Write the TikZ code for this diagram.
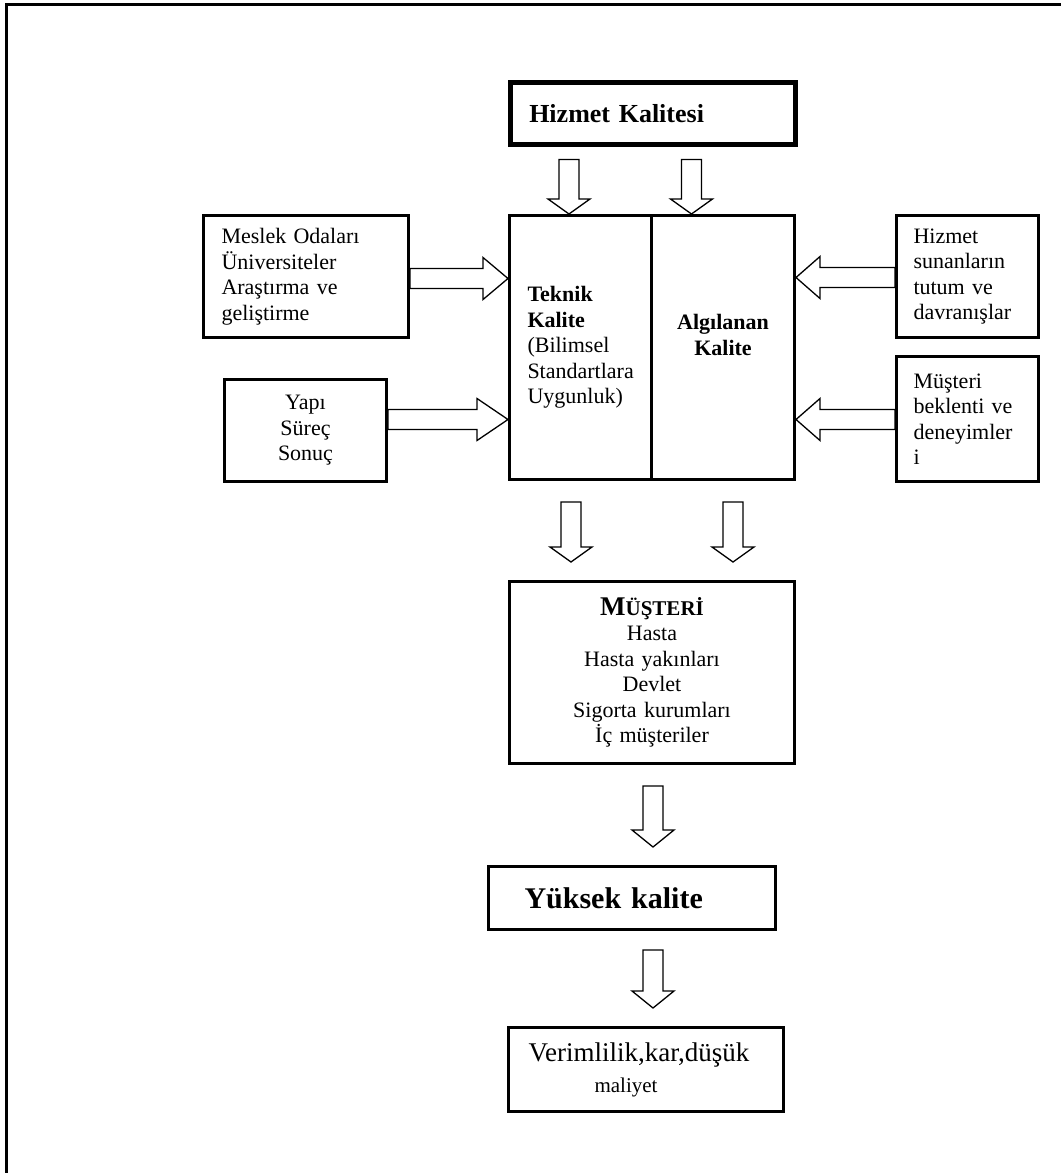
\documentclass[tikz,border=0pt]{standalone}
\usepackage{fontspec}
\setmainfont{Liberation Serif}
\usetikzlibrary{calc}
\tikzset{
  box/.style={draw, line width=3pt, inner ysep=0pt, anchor=north west,
    font=\fontsize{22}{25.5}\selectfont},
  blockarr/.style={draw, line width=1.3pt, line join=miter},
}
\newcommand{\blockarrow}[3][15]{%
  \coordinate (ba-s) at #2;
  \coordinate (ba-t) at #3;
  \coordinate (ba-h) at ($(ba-t)!#1pt!(ba-s)$);
  \draw[blockarr] ($(ba-s)!10pt!90:(ba-t)$) -- ($(ba-h)!10pt!90:(ba-t)$)
    -- ($(ba-h)!21pt!90:(ba-t)$) -- (ba-t) -- ($(ba-h)!21pt!-90:(ba-t)$)
    -- ($(ba-h)!10pt!-90:(ba-t)$) -- ($(ba-s)!10pt!-90:(ba-t)$) -- cycle;
}
\begin{document}
\begin{tikzpicture}[x=1pt, y=-1pt]
\useasboundingbox (0,0) rectangle (1061,1173);
% outer frame
\draw[line width=3pt] (6,1173) -- (6,4) -- (1061,4);

% boxes
\node[box, line width=4.5pt, minimum width=285pt, minimum height=62pt, text width=247pt,
  inner xsep=19pt, align=left, font=\bfseries\fontsize{26}{30}\selectfont]
  (hk) at (508,80) {Hizmet Kalitesi};

\node[box, minimum width=142pt, minimum height=264pt, text width=106pt, inner xsep=18pt, align=left]
  (tk) at (508,214) {\textbf{Teknik}\\\textbf{Kalite}\\(Bilimsel\\Standartlara\\Uygunluk)};
\node[box, minimum width=143pt, minimum height=264pt, text width=107pt, inner xsep=18pt, align=center]
  (ak) at (650,214) {\textbf{Algılanan}\\\textbf{Kalite}\\\mbox{}};

\node[box, minimum width=205pt, minimum height=122pt, text width=169pt, inner xsep=18pt, align=left]
  (mb) at (202,214) {Meslek Odaları\\Üniversiteler\\Araştırma ve\\geliştirme};
\node[box, minimum width=162pt, minimum height=102pt, text width=126pt, inner xsep=18pt, align=center]
  (yb) at (223,378) {Yapı\\Süreç\\Sonuç};

\node[box, minimum width=142pt, minimum height=122pt, text width=108pt, inner xsep=17pt, align=left]
  (hb) at (895,214) {Hizmet\\sunanların\\tutum ve\\davranışlar};
\node[box, minimum width=142pt, minimum height=125pt, text width=108pt, inner xsep=17pt, align=left]
  (mbk) at (895,355) {Müşteri\\beklenti ve\\deneyimler\\i};

\node[box, minimum width=285pt, minimum height=182pt, text width=249pt, inner xsep=18pt, align=center]
  (mu) at (508,580) {{\bfseries\fontsize{27}{26}\selectfont M\fontsize{21}{26}\selectfont ÜŞTERİ}\\Hasta\\Hasta yakınları\\Devlet\\Sigorta kurumları\\İç müşteriler};

\node[box, minimum width=287pt, minimum height=63pt, text width=215pt, inner xsep=36pt, align=left,
  font=\bfseries\fontsize{30}{34}\selectfont]
  (yk) at (487,865) {Yüksek kalite};

\node[box, minimum width=275pt, minimum height=84pt, text width=235pt, inner xsep=20pt, align=left,
  font=\fontsize{27}{31}\selectfont]
  (vk) at (507,1026) {Verimlilik,kar,düşük\\\hspace*{66pt}{\fontsize{21}{31}\selectfont maliyet}};

% block arrows
\coordinate (a1s) at ($(hk.south west)+(61,13)$);
\coordinate (a1t) at (a1s |- tk.north);
\blockarrow{(a1s)}{(a1t)}
\coordinate (a2s) at ($(hk.south west)+(183.5,13)$);
\coordinate (a2t) at (a2s |- ak.north);
\blockarrow{(a2s)}{(a2t)}

\coordinate (a3s) at ($(mb.east)+(0,2)$);
\coordinate (a3t) at (a3s -| tk.west);
\blockarrow[25]{(a3s)}{(a3t)}
\coordinate (a4s) at ($(yb.east)+(0,-11)$);
\coordinate (a4t) at (a4s -| tk.west);
\blockarrow[31]{(a4s)}{(a4t)}

\coordinate (a5s) at ($(hb.west)+(0,1)$);
\coordinate (a5t) at (a5s -| ak.east);
\blockarrow[24]{(a5s)}{(a5t)}
\coordinate (a6s) at ($(mbk.west)+(0,0.5)$);
\coordinate (a6t) at (a6s -| ak.east);
\blockarrow[24]{(a6s)}{(a6t)}

\coordinate (a7s) at ($(tk.south)+(-9.5,21)$);
\coordinate (a7t) at ($(a7s |- mu.north)+(0,-18)$);
\blockarrow{(a7s)}{(a7t)}
\coordinate (a8s) at ($(ak.south)+(10,21)$);
\coordinate (a8t) at ($(a8s |- mu.north)+(0,-18)$);
\blockarrow{(a8s)}{(a8t)}

\coordinate (a9s) at ($(mu.south)+(1,21)$);
\coordinate (a9t) at ($(a9s |- yk.north)+(0,-18)$);
\blockarrow[17]{(a9s)}{(a9t)}
\coordinate (a10s) at ($(mu.south |- yk.south)+(1,19)$);
\coordinate (a10t) at ($(a10s |- vk.north)+(0,-18)$);
\blockarrow[17]{(a10s)}{(a10t)}
\end{tikzpicture}
\end{document}
